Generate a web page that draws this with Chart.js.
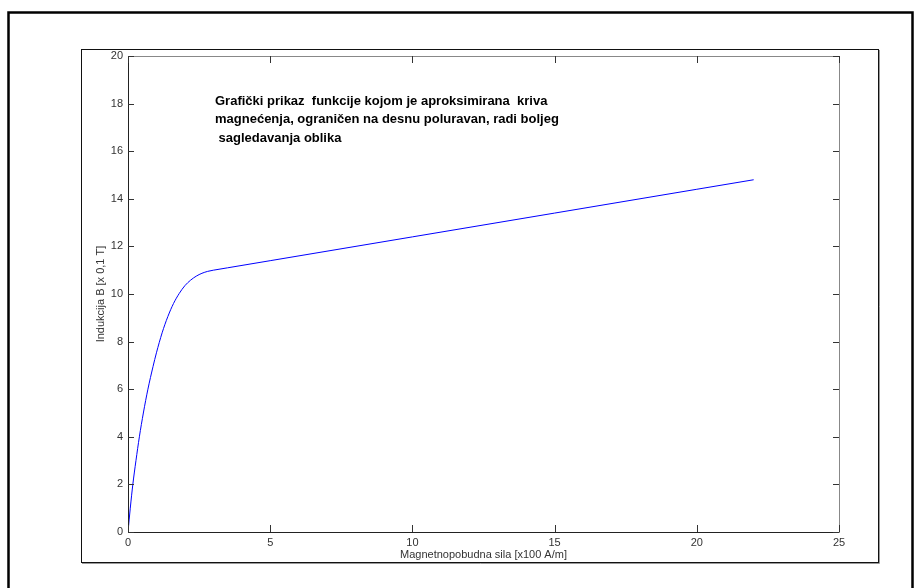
<!DOCTYPE html>
<html>
<head>
<meta charset="utf-8">
<script src="https://cdn.jsdelivr.net/npm/chart.js@4.4.1/dist/chart.umd.min.js"></script>
<style>
    html, body { margin: 0; padding: 0; background: #fff; }
    #wrap { width: 914px; height: 588px; position: relative; }
</style>
</head>
<body>
<div id="wrap"><canvas id="magChart"></canvas></div>
<script>
// H [x100 A/m] and B [x0,1 T]
const hValues = [0, 0.08, 0.17, 0.28, 0.4, 0.54, 0.7, 0.88, 1.0, 1.2, 1.4, 1.6, 1.8, 2.0, 2.2, 2.4, 2.6, 2.8, 3.0, 3.5, 5, 10, 15, 20, 22];
const bValues = [0, 1, 2, 3, 4, 5, 6, 6.95, 7.53, 8.37, 9.05, 9.6, 10.02, 10.35, 10.58, 10.75, 10.87, 10.95, 11.0, 11.1, 11.4, 12.4, 13.4, 14.4, 14.8];

const xTicks = [0, 5, 10, 15, 20, 25];
const yTicks = [0, 2, 4, 6, 8, 10, 12, 14, 16, 18, 20];

const noteLines = [
    'Grafički prikaz  funkcije kojom je aproksimirana  kriva',
    'magnećenja, ograničen na desnu poluravan, radi boljeg',
    ' sagledavanja oblika'
];

const xTitle = 'Magnetnopobudna sila [x100 A/m]';
const yTitle = 'Indukcija B [x 0,1 T]';

const points = hValues.map((h, i) => ({ x: h, y: bValues[i] }));

// frames, axes box, inside ticks and the text note
const framePlugin = {
    id: 'framePlugin',
    beforeDraw(chart) {
        const ctx = chart.ctx;
        ctx.save();
        ctx.fillStyle = '#fff';
        ctx.fillRect(0, 0, chart.width, chart.height);
        // outer figure border
        ctx.strokeStyle = '#000';
        ctx.lineWidth = 2.5;
        ctx.strokeRect(8.5, 12.5, 904, 600);
        // inner frame
        ctx.lineWidth = 1;
        ctx.strokeStyle = '#999';
        ctx.beginPath();
        ctx.moveTo(82, 563.5);
        ctx.lineTo(879.5, 563.5);
        ctx.lineTo(879.5, 50);
        ctx.stroke();
        ctx.strokeStyle = '#111';
        ctx.strokeRect(81.5, 49.5, 797, 513);
        ctx.restore();
    },
    afterDatasetsDraw(chart) {
        const ctx = chart.ctx;
        const xs = chart.scales.x, ys = chart.scales.y;
        const a = chart.chartArea;
        ctx.save();
        ctx.lineWidth = 1;
        ctx.strokeStyle = '#888';
        ctx.beginPath();
        ctx.moveTo(a.left + 0.5, a.top + 0.5);
        ctx.lineTo(a.right + 0.5, a.top + 0.5);
        ctx.lineTo(a.right + 0.5, a.bottom);
        ctx.stroke();
        ctx.strokeStyle = '#222';
        ctx.beginPath();
        ctx.moveTo(a.left + 0.5, a.top);
        ctx.lineTo(a.left + 0.5, a.bottom + 0.5);
        ctx.lineTo(a.right + 0.5, a.bottom + 0.5);
        ctx.stroke();
        ctx.strokeStyle = '#333';
        ctx.beginPath();
        xTicks.forEach(v => {
            const px = Math.round(xs.getPixelForValue(v)) + 0.5;
            ctx.moveTo(px, a.bottom);
            ctx.lineTo(px, a.bottom - 7);
            ctx.moveTo(px, a.top);
            ctx.lineTo(px, a.top + 7);
        });
        yTicks.forEach(v => {
            const py = Math.round(ys.getPixelForValue(v)) + 0.5;
            ctx.moveTo(a.left, py);
            ctx.lineTo(a.left + 6, py);
            ctx.moveTo(a.right, py);
            ctx.lineTo(a.right - 6, py);
        });
        ctx.stroke();
        // text note inside the axes
        ctx.fillStyle = '#000';
        ctx.font = 'bold 13px "Liberation Sans", Arial, sans-serif';
        ctx.textBaseline = 'middle';
        noteLines.forEach((line, i) => {
            ctx.fillText(line, 215, 101 + i * 18.5);
        });
        ctx.restore();
    }
};

const ctx = document.getElementById('magChart').getContext('2d');
new Chart(ctx, {
    type: 'scatter',
    data: {
        datasets: [{
            label: 'B(H)',
            data: points,
            showLine: true,
            borderColor: '#0000ff',
            borderWidth: 1,
            pointRadius: 0,
            cubicInterpolationMode: 'monotone',
            fill: false
        }]
    },
    options: {
        responsive: true,
        maintainAspectRatio: false,
        animation: false,
        devicePixelRatio: 1,
        layout: {
            padding: { left: 88, right: 75, top: 56, bottom: 26 }
        },
        plugins: {
            legend: { display: false },
            tooltip: { enabled: false }
        },
        scales: {
            x: {
                type: 'linear',
                min: 0,
                max: 25,
                afterFit: scale => { scale.height = 30; },
                afterBuildTicks: scale => { scale.ticks = xTicks.map(v => ({ value: v })); },
                grid: { display: false, drawTicks: false },
                border: { display: false },
                ticks: {
                    color: '#333',
                    padding: 4,
                    font: { family: '"Liberation Sans", Arial, sans-serif', size: 11 }
                },
                title: {
                    display: true,
                    text: xTitle,
                    color: '#333',
                    padding: { top: 0, bottom: 0 },
                    font: { family: '"Liberation Sans", Arial, sans-serif', size: 11 }
                }
            },
            y: {
                type: 'linear',
                min: 0,
                max: 20,
                afterFit: scale => { scale.width = 40; },
                afterBuildTicks: scale => { scale.ticks = yTicks.map(v => ({ value: v })); },
                grid: { display: false, drawTicks: false },
                border: { display: false },
                ticks: {
                    color: '#333',
                    padding: 5,
                    font: { family: '"Liberation Sans", Arial, sans-serif', size: 11 }
                },
                title: {
                    display: true,
                    text: yTitle,
                    color: '#333',
                    padding: { top: 6, bottom: 0 },
                    font: { family: '"Liberation Sans", Arial, sans-serif', size: 11 }
                }
            }
        }
    },
    plugins: [framePlugin]
});
</script>
</body>
</html>
